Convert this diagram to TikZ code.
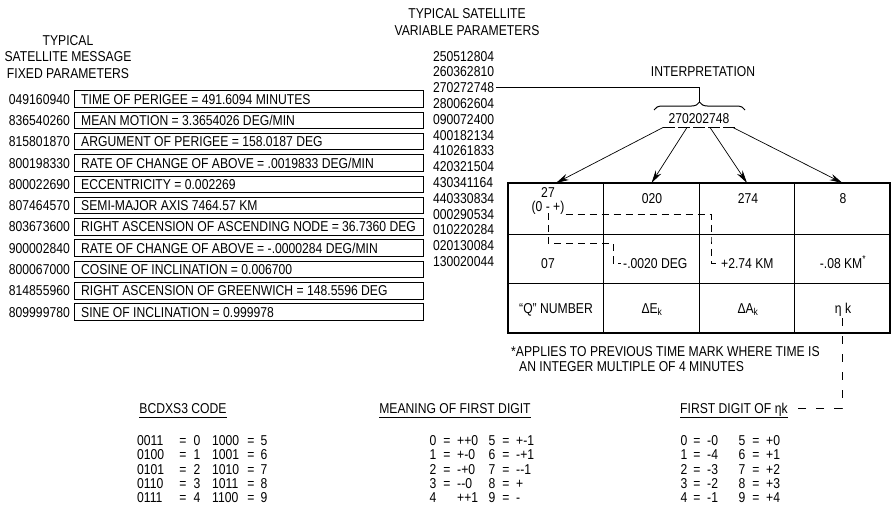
\documentclass[tikz,border=0pt]{standalone}
\usepackage{fontspec}
\setmainfont{Liberation Sans}[FakeStretch=0.85]
\usetikzlibrary{decorations.pathreplacing,arrows.meta}
\begin{document}
\begin{tikzpicture}[x=1pt,y=-1pt,
  txt/.style={inner sep=0pt,text height=10.2pt,text depth=0pt,font=\fontsize{14.3}{16.5}\selectfont},
  pbox/.style={draw,line width=0.9pt,minimum width=349pt,minimum height=16.5pt,anchor=west,inner sep=0pt},
  dsh/.style={line width=0.7pt,dash pattern=on 7pt off 5pt},
  arr/.style={line width=0.7pt,-{Stealth[length=13pt,width=6.5pt]}},
  tline/.style={line width=0.9pt},
  uline/.style={line width=0.7pt}]
\useasboundingbox (0,0) rectangle (894,512);

% headers
\node[txt,align=center,text height=,text depth=,font=\fontsize{14.3}{16.5}\selectfont] (hfix) at (68,57) {TYPICAL\\SATELLITE MESSAGE\\FIXED PARAMETERS};
\node[txt,align=center,text height=,text depth=,font=\fontsize{14.3}{16.5}\selectfont] (hvar) at (467,22) {TYPICAL SATELLITE\\VARIABLE PARAMETERS};
\node[txt] (hint) at (703,71) {INTERPRETATION};

% fixed parameter rows
\node[txt,anchor=east] (c1) at (70,99) {049160940};
\node[pbox] (b1) at (74,99) {};
\node[txt,anchor=west] (t1) at (81,99) {TIME OF PERIGEE = 491.6094 MINUTES};
\node[txt,anchor=east] (c2) at (70,120.3) {836540260};
\node[pbox] (b2) at (74,120.3) {};
\node[txt,anchor=west] (t2) at (81,120.3) {MEAN MOTION = 3.3654026 DEG/MIN};
\node[txt,anchor=east] (c3) at (70,141.6) {815801870};
\node[pbox] (b3) at (74,141.6) {};
\node[txt,anchor=west] (t3) at (81,141.6) {ARGUMENT OF PERIGEE = 158.0187 DEG};
\node[txt,anchor=east] (c4) at (70,162.9) {800198330};
\node[pbox] (b4) at (74,162.9) {};
\node[txt,anchor=west] (t4) at (81,162.9) {RATE OF CHANGE OF ABOVE = .0019833 DEG/MIN};
\node[txt,anchor=east] (c5) at (70,184.2) {800022690};
\node[pbox] (b5) at (74,184.2) {};
\node[txt,anchor=west] (t5) at (81,184.2) {ECCENTRICITY = 0.002269};
\node[txt,anchor=east] (c6) at (70,205.5) {807464570};
\node[pbox] (b6) at (74,205.5) {};
\node[txt,anchor=west] (t6) at (81,205.5) {SEMI-MAJOR AXIS 7464.57 KM};
\node[txt,anchor=east] (c7) at (70,226.8) {803673600};
\node[pbox] (b7) at (74,226.8) {};
\node[txt,anchor=west] (t7) at (81,226.8) {RIGHT ASCENSION OF ASCENDING NODE = 36.7360 DEG};
\node[txt,anchor=east] (c8) at (70,248.1) {900002840};
\node[pbox] (b8) at (74,248.1) {};
\node[txt,anchor=west] (t8) at (81,248.1) {RATE OF CHANGE OF ABOVE = -.0000284 DEG/MIN};
\node[txt,anchor=east] (c9) at (70,269.4) {800067000};
\node[pbox] (b9) at (74,269.4) {};
\node[txt,anchor=west] (t9) at (81,269.4) {COSINE OF INCLINATION = 0.006700};
\node[txt,anchor=east] (c10) at (70,290.7) {814855960};
\node[pbox] (b10) at (74,290.7) {};
\node[txt,anchor=west] (t10) at (81,290.7) {RIGHT ASCENSION OF GREENWICH = 148.5596 DEG};
\node[txt,anchor=east] (c11) at (70,312) {809999780};
\node[pbox] (b11) at (74,312) {};
\node[txt,anchor=west] (t11) at (81,312) {SINE OF INCLINATION = 0.999978};

% variable parameters
\foreach \v [count=\i from 0] in {250512804,260362810,270272748,280062604,090072400,400182134,410261833,420321504,430341164,440330834,000290534,010220284,020130084,130020044}
  \node[txt,anchor=west] (v\i) at (433,{56+15.8*\i}) {\v};

% interpretation
\coordinate (brtip) at (699.5,102);
\draw[line width=0.7pt] ([xshift=2pt]v2.east) -| (brtip);
\draw[line width=1pt,decorate,decoration={brace,amplitude=8pt}] (654,110) -- (745,110);
\node[txt] (num) at (699,118) {270202748};
\coordinate (u0) at (663,127.5);
\coordinate (u1) at (735,127.5);
\draw[line width=0.7pt,dash pattern=on 12pt off 3pt] (u0) -- (u1);
\coordinate (a1) at (663,127.5);
\coordinate (a2) at (687,127.5);
\coordinate (a3) at (710,127.5);
\coordinate (a4) at (733,127.5);

% table
\coordinate (tl) at (508,183);
\coordinate (br) at (890,333);
\coordinate (top1) at (556,183);
\coordinate (top2) at (651.5,183);
\coordinate (top3) at (747,183);
\coordinate (top4) at (842.5,183);
\draw[line width=1.3pt] (tl) rectangle (br);
\draw[tline] (603.5,183) -- (603.5,333) (699,183) -- (699,333) (794.5,183) -- (794.5,333);
\draw[tline] (508,234) -- (890,234) (508,283.5) -- (890,283.5);
\draw[arr] (a1) -- (top1);
\draw[arr] (a2) -- (top2);
\draw[arr] (a3) -- (top3);
\draw[arr] (a4) -- (top4);

\node[txt] (r1c1) at (548,192) {27};
\node[txt] (pm) at (548,206) {(0 - +)};
\node[txt] (r1c2) at (652,198) {020};
\node[txt] (r1c3) at (748,198) {274};
\node[txt] (r1c4) at (843,198) {8};
\node[txt] (r2c1) at (548,263) {07};
\node[txt,anchor=west] (r2c2) at (623,263) {-.0020 DEG};
\node[txt,anchor=west] (r2c3) at (721,263) {+2.74 KM};
\node[txt] (r2c4) at (843,263) {-.08 KM\textsuperscript{*}};
\node[txt] (r3c1) at (556,308) {“Q” NUMBER};
\node[txt] (r3c2) at (652,308) {ΔE\textsubscript{k}};
\node[txt] (r3c3) at (748,308) {ΔA\textsubscript{k}};
\node[txt] (r3c4) at (843,308) {η k};

\coordinate (pa) at (711,240);
\coordinate (pb) at (613,243);
\draw[dsh] ([xshift=1pt,yshift=-3pt]pm.south east) -| (pa) |- ([xshift=-2pt]r2c3.west);
\draw[dsh] ([yshift=-2pt]pm.south) |- (pb) |- ([xshift=-2pt]r2c2.west);

% footnote
\node[txt,anchor=west] (fn1) at (511,351) {*APPLIES TO PREVIOUS TIME MARK WHERE TIME IS};
\node[txt,anchor=west] (fn2) at (519,366) {AN INTEGER MULTIPLE OF 4 MINUTES};

% bottom headers
\node[txt] (h1) at (183,408) {BCDXS3 CODE};
\node[txt] (h2) at (455,408) {MEANING OF FIRST DIGIT};
\node[txt,anchor=west] (h3) at (680,408) {FIRST DIGIT OF ηk};
\draw[uline] ([yshift=-4pt]h1.south west) -- ([yshift=-4pt]h1.south east);
\draw[uline] ([yshift=-4pt]h2.south west) -- ([yshift=-4pt]h2.south east);
\draw[uline] ([yshift=-4pt]h3.south west) -- ([yshift=-4pt]h3.south east);
\coordinate (ek) at (842,318);
\draw[line width=0.7pt,dash pattern=on 8pt off 10pt] (ek) |- ([xshift=5pt]h3.east);

% BCDXS3 table
\foreach \a/\b/\c/\d [count=\i] in {0011/0/1000/5,0100/1/1001/6,0101/2/1010/7,0110/3/1011/8,0111/4/1100/9} {
  \node[txt,anchor=west] (ba\i) at (137,{426.25+14.25*\i}) {\a};
  \node[txt] (be\i) at (183,{426.25+14.25*\i}) {=};
  \node[txt] (bb\i) at (197,{426.25+14.25*\i}) {\b};
  \node[txt,anchor=west] (bc\i) at (212,{426.25+14.25*\i}) {\c};
  \node[txt] (bf\i) at (251,{426.25+14.25*\i}) {=};
  \node[txt] (bd\i) at (264,{426.25+14.25*\i}) {\d};
}
% meaning table
\foreach \a/\e/\b/\c/\d [count=\i] in {0/=/++0/5/+-1,1/=/+-0/6/-+1,2/=/-+0/7/{-{}-1},3/=/{-{}-0}/8/+,4//++1/9/-} {
  \node[txt] (ma\i) at (433,{426.25+14.25*\i}) {\a};
  \node[txt] (me\i) at (447,{426.25+14.25*\i}) {\e};
  \node[txt,anchor=west] (mb\i) at (457,{426.25+14.25*\i}) {\b};
  \node[txt] (mc\i) at (492,{426.25+14.25*\i}) {\c};
  \node[txt] (mf\i) at (506,{426.25+14.25*\i}) {=};
  \node[txt,anchor=west] (md\i) at (516,{426.25+14.25*\i}) {\d};
}
% first digit table
\foreach \a/\b/\c/\d [count=\i] in {0/-0/5/+0,1/-4/6/+1,2/-3/7/+2,3/-2/8/+3,4/-1/9/+4} {
  \node[txt] (fa\i) at (684,{426.25+14.25*\i}) {\a};
  \node[txt] (fe\i) at (697,{426.25+14.25*\i}) {=};
  \node[txt,anchor=west] (fb\i) at (707,{426.25+14.25*\i}) {\b};
  \node[txt] (fc\i) at (742,{426.25+14.25*\i}) {\c};
  \node[txt] (ff\i) at (756,{426.25+14.25*\i}) {=};
  \node[txt,anchor=west] (fd\i) at (766,{426.25+14.25*\i}) {\d};
}
\end{tikzpicture}
\end{document}
